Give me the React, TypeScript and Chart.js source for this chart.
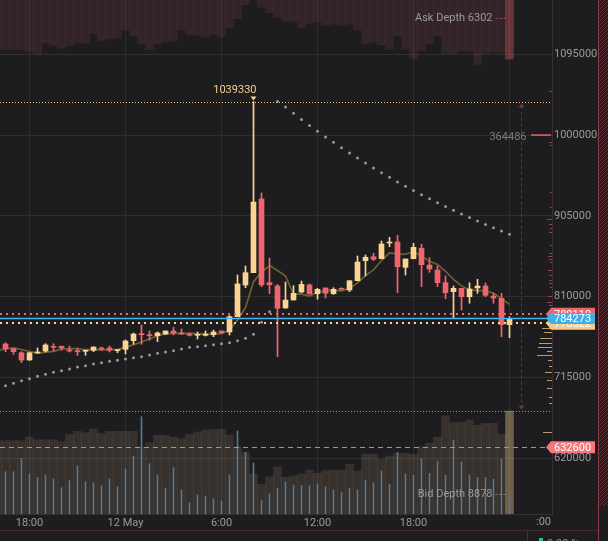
import React, { useEffect, useRef } from "react";
import { Chart, registerables } from "chart.js";

Chart.register(...registerables);

// ---------------- data ----------------
// 30-minute candles, 11 May 16:30 -> 13 May 00:00
const opens = [
  754200, 748600, 743900, 735300, 743600, 745900, 751000, 751500,
  747100, 746300, 745600, 746800, 749500, 749500, 746300, 747900,
  758100, 766300, 765100, 763900, 765900, 769500, 767100, 765900,
  764400, 764400, 765100, 769500, 768300, 786300, 823600, 838100,
  924800, 826300, 822400, 796500, 805900, 815300, 823600, 813300,
  820100, 813300, 819700, 817700, 828600, 852200, 856900, 854500,
  873000, 874200, 844400, 854500, 866800, 847100, 841200, 826300,
  815700, 819700, 809800, 820100, 822400, 810600, 807900, 776900,
];
const highs = [
  755700, 748900, 745100, 744200, 749500, 754500, 754500, 751800,
  751800, 749500, 747100, 750900, 750600, 751800, 747700, 758900,
  767100, 776500, 769500, 768300, 769500, 773800, 771800, 767100,
  768300, 769500, 770600, 769500, 787500, 835300, 845900, 1039330,
  931800, 855300, 824300, 827100, 822800, 828200, 824800, 819700,
  820100, 820400, 820400, 828600, 857700, 858900, 860900, 875300,
  879700, 882100, 854200, 872600, 871500, 855700, 845900, 834200,
  822400, 819700, 826300, 830300, 825900, 813800, 813800, 786300,
];
const lows = [
  745100, 742000, 732200, 735000, 743200, 744800, 745900, 746800,
  744800, 740800, 740900, 745100, 746800, 744800, 743900, 742400,
  753800, 753800, 758500, 756900, 765100, 764800, 765600, 763600,
  760100, 763600, 762800, 766300, 764800, 786300, 820400, 838100,
  821500, 813300, 739200, 796200, 805900, 814500, 813000, 806800,
  808300, 812600, 817700, 815700, 828600, 834200, 852200, 854500,
  868600, 814500, 835300, 854500, 821600, 838500, 821600, 807500,
  784400, 794000, 802200, 813800, 809800, 802200, 762800, 761600,
];
const closes = [
  748600, 745100, 735300, 743900, 744800, 753000, 750300, 749500,
  745900, 745100, 746800, 750600, 748300, 746800, 747500, 757700,
  765900, 765100, 763900, 767100, 769500, 767100, 765900, 764400,
  765100, 765900, 768300, 767100, 786300, 824800, 838100, 921200,
  823800, 823800, 796200, 805900, 813800, 824300, 813000, 818500,
  813800, 818500, 818500, 828600, 850600, 856200, 853800, 871800,
  874200, 845100, 854200, 867900, 847500, 842400, 826300, 814500,
  819700, 809800, 818900, 822400, 811500, 808300, 776900, 784273,
];
// moving average, first value belongs to the candle before the first one shown
const maLine = [
  746500,
  748300, 749800, 747700, 745400, 743500, 744400, 745500, 748300,
  748700, 748800, 747500, 747600, 747300, 747500, 748000, 750200,
  753200, 756600, 760000, 763900, 766300, 766500, 766700, 766800,
  766400, 765700, 765900, 766200, 770500, 782500, 796900, 827500,
  838800, 846300, 840600, 834200, 812700, 812800, 810600, 815100,
  816700, 817600, 816500, 819600, 826000, 834500, 841500, 852200,
  861300, 860200, 859800, 862600, 857800, 851400, 847700, 839700,
  830100, 822500, 817800, 817100, 816500, 814200, 807600, 800700,
];
// parabolic SAR dots
const sarDots = [
  705100, 707900, 711000, 713300, 716200, 718500, 720900, 722800,
  724800, 727100, 728600, 730600, 732200, 733800, 735000, 736500,
  738100, 739200, 741200, 743200, 744800, 746300, 748300, 750300,
  751000, 752200, 753400, 754500, 755700, 758100, 760900, 765600,
  779700, 792200, 1039330, 1032900, 1025500, 1018300, 1011200, 1004500,
  997800, 991400, 985000, 978800, 972900, 967000, 961200, 955700,
  950300, 944900, 939800, 934800, 929800, 925100, 920400, 915800,
  911500, 907100, 902900, 898800, 894800, 890900, 887000, 883400,
];
const volumes = [
  423, 423, 557, 400, 367, 390, 350, 263,
  333, 480, 323, 313, 283, 350, 273, 450,
  580, 973, 503, 390, 260, 463, 240, 113,
  190, 180, 153, 130, 390, 830, 617, 510,
  133, 200, 260, 320, 290, 287, 280, 300,
  273, 240, 213, 257, 240, 340, 313, 430,
  297, 617, 400, 387, 553, 407, 530, 387,
  740, 523, 390, 367, 367, 347, 550, 147,
];
// depth histories, first value belongs to the candle before the first one shown
const askDepth = [
  5265,
  5265, 5265, 5265, 5522, 5799, 4592, 4881, 5126,
  4881, 4592, 4592, 3599, 4379, 4165, 4058, 3204,
  3845, 4624, 5308, 4699, 4486, 4347, 3204, 3738,
  3738, 3920, 3706, 3920, 2990, 1997, 502, 0,
  780, 1356, 1848, 2275, 2275, 2990, 2563, 2350,
  2702, 2563, 2702, 2563, 3204, 4624, 4486, 4774,
  5265, 3845, 5265, 6301, 5415, 4699, 3845, 5692,
  5692, 5447, 5447, 6942, 5692, 5522, 5692, 6302,
];
const bidDepth = [
  6318,
  6318, 6318, 6318, 6637, 6405, 6405, 6405, 6232,
  6870, 7129, 7008, 7327, 6922, 7129, 7129, 7129,
  7129, 5801, 6146, 6784, 6784, 6612, 6465, 6870,
  7068, 7215, 7301, 7301, 6810, 5801, 5284, 3448,
  2560, 3215, 4051, 3164, 3276, 3448, 3793, 3508,
  3732, 3793, 3793, 4284, 3707, 5146, 5172, 4715,
  5000, 5232, 5232, 5146, 5801, 6094, 6612, 8473,
  7870, 7870, 8103, 7646, 7818, 7818, 6870, 8878,
];
const xTickIndex = [3, 15, 27, 39, 51, 63];
const xTickLabels = ["18:00", "12 May", "6:00", "12:00", "18:00", ""];
const priceTicks = [620000, 715000, 810000, 905000, 1000000, 1095000];

const periodHigh = 1039330;
const periodHighIndex = 31;
const lastPrice = 784273;
const askLinePrice = 789110;
const bidLinePrice = 778522;
const alertPrice = 632600;
const rangeLow = 674844;
const rangeSize = 364486;
const rangeMarkerIndex = 64.4;
const wallPrice = 1000000;
const askDepthTotal = 6302;
const bidDepthTotal = 8878;
// side order book: [price, size]
const bookAsk = [
  [1051470, 3], [991820, 3], [987940, 2], [933350, 2], [915700, 2], [900880, 5],
  [895350, 3], [890290, 2], [886290, 3], [870290, 2], [861230, 3], [857700, 4],
  [854170, 3], [850640, 2], [841230, 4], [835350, 3], [829460, 3], [825580, 3],
  [820870, 2], [810640, 4], [803940, 5], [800060, 3],
];
const bookBid = [
  [773350, 10], [767940, 8], [760880, 12], [755700, 13], [751000, 14], [746290, 5],
  [740880, 15], [735360, 4], [728300, 3], [721590, 7], [711830, 5], [702420, 5],
  [692180, 3], [685120, 3], [650300, 9],
];

// ---------------- styles ----------------
const BG = "#1d1d1f";
const GRID = "#2f2f32";
const TICK = "#9a9a9a";
const UP = "#fcd492";
const DOWN = "#f1646e";
const FONT = "Roboto, 'Noto Sans', sans-serif";
const W = 608;
const H = 541;

export default function App() {
  const ref = useRef<HTMLCanvasElement>(null);

  useEffect(() => {
    document.body.style.margin = "0";
    document.body.style.background = BG;
    const canvas = ref.current!;
    const idx = closes.map((_, i) => i);
    const last = closes.length - 1;
    const candleColors = idx.map((i) => (closes[i] >= opens[i] ? UP : DOWN));
    const askColors = askDepth.map((_, k) =>
      k - 1 === last ? "rgba(240,100,110,0.34)" : "rgba(240,100,110,0.11)"
    );
    const bidColors = bidDepth.map((_, k) =>
      k - 1 === last ? "rgba(253,214,146,0.36)" : "rgba(253,214,146,0.115)"
    );

    const overlay = {
      id: "overlay",
      beforeDraw(chart: any) {
        const c = chart.ctx;
        c.save();
        c.fillStyle = BG;
        c.fillRect(0, 0, chart.width, chart.height);
        c.restore();
      },
      afterDraw(chart: any) {
        const ctx: CanvasRenderingContext2D = chart.ctx;
        const ca = chart.chartArea;
        const xs = chart.scales.x;
        const ys = chart.scales.y;
        const X = (i: number) => xs.getPixelForValue(i);
        const Y = (v: number) => ys.getPixelForValue(v);
        const line = (x0: number, y0: number, x1: number, y1: number, color: string, width = 1, dash: number[] = []) => {
          ctx.save();
          ctx.strokeStyle = color;
          ctx.lineWidth = width;
          ctx.setLineDash(dash);
          ctx.beginPath();
          ctx.moveTo(x0, y0);
          ctx.lineTo(x1, y1);
          ctx.stroke();
          ctx.restore();
        };
        const text = (s: string, x: number, y: number, color: string, align: CanvasTextAlign, base: CanvasTextBaseline = "middle", size = 11) => {
          ctx.save();
          ctx.fillStyle = color;
          ctx.font = `${size}px ${FONT}`;
          ctx.textAlign = align;
          ctx.textBaseline = base;
          ctx.fillText(s, x, y);
          ctx.restore();
        };

        // frame
        line(ca.right + 0.5, 0, ca.right + 0.5, ca.bottom, "#3b2e32");
        line(0, ca.bottom + 0.5, ca.right + 1, ca.bottom + 0.5, "#3b2e32");
        line(0, 530.5, 598, 530.5, "#3d2b2f");
        line(527.5, 531, 527.5, H, "#3a3a3c");
        // right hatched strip
        ctx.save();
        ctx.beginPath();
        ctx.rect(599, 0, W - 599, 506);
        ctx.clip();
        ctx.fillStyle = "#231c1e";
        ctx.fillRect(599, 0, W - 599, 506);
        ctx.strokeStyle = "#6a2c36";
        ctx.lineWidth = 1;
        for (let k = -12; k < 520; k += 4) {
          ctx.beginPath();
          ctx.moveTo(599, k + 10);
          ctx.lineTo(609, k);
          ctx.stroke();
        }
        ctx.restore();
        line(598.5, 0, 598.5, H, "#8c3a46");

        // side order book marks
        ctx.save();
        ctx.fillStyle = "rgba(176,70,82,0.85)";
        bookAsk.forEach(([p, s]) => ctx.fillRect(ca.right - s, Math.round(Y(p)), s, 1));
        ctx.fillStyle = "rgba(214,180,120,0.85)";
        bookBid.forEach(([p, s]) => ctx.fillRect(ca.right - s, Math.round(Y(p)), s, 1));
        ctx.restore();
        line(ca.right - 21, Y(wallPrice), ca.right - 1, Y(wallPrice), "#f0606a", 1.5);

        // horizontal price lines
        const hl = (v: number, color: string, dash: number[], w: number) => {
          const y = Math.round(Y(v)) + (w % 2 === 1 ? 0.5 : 0);
          line(0, y, ca.right - 2, y, color, w, dash);
        };
        hl(periodHigh, "#f2c46f", [1, 2], 1);
        hl(rangeLow, "#e66d76", [1, 2], 1);
        hl(alertPrice, "#f0727a", [5, 4], 1);
        hl(askLinePrice, "#f0646e", [2, 4], 2);
        hl(bidLinePrice, "#fcd492", [2, 4], 2);
        line(0, Y(lastPrice), ca.right - 4, Y(lastPrice), "#3fb4ef", 1.5);

        // range marker
        const rx = Math.round(X(rangeMarkerIndex)) + 0.5;
        const yTop = Y(periodHigh);
        const yBot = Y(rangeLow);
        line(rx, yTop + 4, rx, yBot - 4, "#6e3039", 1, [3, 3]);
        ctx.save();
        ctx.fillStyle = "#7a3440";
        ctx.beginPath();
        ctx.moveTo(rx, yTop + 2);
        ctx.lineTo(rx - 3, yTop + 6);
        ctx.lineTo(rx + 3, yTop + 6);
        ctx.closePath();
        ctx.fill();
        ctx.beginPath();
        ctx.moveTo(rx, yBot - 2);
        ctx.lineTo(rx - 3, yBot - 6);
        ctx.lineTo(rx + 3, yBot - 6);
        ctx.closePath();
        ctx.fill();
        ctx.restore();
        text(String(rangeSize), rx + 5, yTop + 36, "#7d7d7d", "right");

        // period high label
        const hx = X(periodHighIndex);
        text(String(periodHigh), hx + 3, yTop - 11, "#f5d08e", "right");
        ctx.save();
        ctx.fillStyle = "#f5d08e";
        ctx.beginPath();
        ctx.moveTo(hx - 3, yTop - 5);
        ctx.lineTo(hx + 3, yTop - 5);
        ctx.lineTo(hx, yTop - 1);
        ctx.closePath();
        ctx.fill();
        ctx.restore();

        // depth labels
        const lx = X(last);
        text(`Ask Depth ${askDepthTotal}`, lx - 17, 18, "#9a9a9a", "right");
        line(lx - 14, 18.5, lx - 4, 18.5, "#a04a55", 1, [2, 2]);
        text(`Bid Depth ${bidDepthTotal}`, lx - 17, ca.bottom - 20, "#9a9a9a", "right");
        line(lx - 14, ca.bottom - 19.5, lx - 4, ca.bottom - 19.5, "#8a7a5a", 1, [2, 2]);

        // right side tags
        const tag = (v: number, s: string, bg: string, fg: string, hh: number) => {
          const y = Y(v);
          ctx.save();
          ctx.fillStyle = bg;
          ctx.beginPath();
          ctx.moveTo(ca.right - 6, y);
          ctx.lineTo(ca.right - 1, y - hh);
          ctx.lineTo(595, y - hh);
          ctx.lineTo(595, y + hh);
          ctx.lineTo(ca.right - 1, y + hh);
          ctx.closePath();
          ctx.fill();
          ctx.restore();
          text(s, ca.right + 2, y + 0.5, fg, "left");
        };
        tag(askLinePrice, String(askLinePrice), "#f0646e", "#ffffff", 6.5);
        tag(bidLinePrice, String(bidLinePrice), "#f8c98a", "#ffffff", 6.5);
        tag(lastPrice, String(lastPrice), "#3cb0ea", "#ffffff", 5.5);
        tag(alertPrice, String(alertPrice), "#f4777e", "#ffffff", 6);

        // clipped time label at the right end of the time axis
        text(":00", ca.right - 1, ca.bottom + 3, TICK, "right", "top");

        // status row at the very bottom
        ctx.save();
        ctx.fillStyle = "#2ebd85";
        ctx.fillRect(539, 538, 4, 4);
        ctx.restore();
        text("0.00 %", 547, 539, "#8e8e8e", "left", "top");
      },
    };

    const chart = new Chart(canvas, {
      type: "bar",
      data: {
        datasets: [
          {
            type: "bar",
            label: "body",
            data: idx.map((i) => ({ x: i, y: [opens[i], closes[i]] })) as any,
            backgroundColor: candleColors,
            barThickness: 5,
            minBarLength: 1,
            grouped: false,
            yAxisID: "y",
            order: 1,
          },
          {
            type: "bar",
            label: "wick",
            data: idx.map((i) => ({ x: i, y: [lows[i], highs[i]] })) as any,
            backgroundColor: candleColors,
            barThickness: 1,
            grouped: false,
            yAxisID: "y",
            order: 2,
          },
          {
            type: "line",
            label: "MA",
            data: maLine.map((v, k) => ({ x: k - 1, y: v })),
            borderColor: "#6d6334",
            borderWidth: 1.6,
            pointRadius: 0,
            tension: 0,
            yAxisID: "y",
            order: 3,
          },
          {
            type: "line",
            label: "SAR",
            data: sarDots.map((v, i) => ({ x: i, y: v })),
            showLine: false,
            pointRadius: 1.5,
            pointBackgroundColor: "#979797",
            pointBorderWidth: 0,
            yAxisID: "y",
            order: 4,
          },
          {
            type: "bar",
            label: "volume",
            data: volumes.map((v, i) => ({ x: i, y: v })),
            backgroundColor: "#58788c",
            barThickness: 1,
            grouped: false,
            yAxisID: "vol",
            order: 5,
          },
          {
            type: "bar",
            label: "bid depth",
            data: bidDepth.map((v, k) => ({ x: k - 1, y: v })),
            backgroundColor: bidColors,
            barThickness: 8,
            grouped: false,
            yAxisID: "bid",
            order: 6,
          },
          {
            type: "bar",
            label: "ask depth",
            data: askDepth.map((v, k) => ({ x: k - 1, y: v })),
            backgroundColor: askColors,
            barThickness: 8,
            grouped: false,
            yAxisID: "ask",
            order: 7,
          },
        ],
      },
      options: {
        animation: false,
        responsive: false,
        events: [],
        layout: { padding: 0, autoPadding: false },
        plugins: { legend: { display: false }, tooltip: { enabled: false } },
        scales: {
          x: {
            type: "linear",
            position: "bottom",
            min: -0.6875,
            max: 68.3125,
            offset: false,
            grid: { color: GRID, drawTicks: false, offset: false },
            border: { display: false },
            ticks: {
              color: TICK,
              font: { family: FONT, size: 11 },
              padding: 3,
              maxRotation: 0,
              autoSkip: false,
              callback: (v: any) => {
                const k = xTickIndex.indexOf(Number(v));
                return k >= 0 ? xTickLabels[k] : "";
              },
            },
            afterBuildTicks: (s: any) => {
              s.ticks = xTickIndex.map((v) => ({ value: v }));
            },
            afterFit: (s: any) => {
              s.height = 27;
              s.paddingLeft = 0;
              s.paddingRight = 0;
            },
          },
          y: {
            type: "linear",
            position: "right",
            min: 554163,
            max: 1158884,
            grid: { color: GRID, drawTicks: false },
            border: { display: false },
            ticks: {
              color: TICK,
              font: { family: FONT, size: 11 },
              padding: 2,
              callback: (v: any) => String(v),
            },
            afterBuildTicks: (s: any) => {
              s.ticks = priceTicks.map((v) => ({ value: v }));
            },
            afterFit: (s: any) => {
              s.width = 56;
              s.paddingTop = 0;
              s.paddingBottom = 0;
            },
          },
          vol: { type: "linear", display: false, min: 0, max: 5140 },
          bid: { type: "linear", display: false, min: 0, max: 44307 },
          ask: { type: "linear", display: false, min: 0, max: 54895, reverse: true },
        },
      } as any,
      plugins: [overlay],
    });
    return () => chart.destroy();
  }, []);

  return (
    <canvas
      ref={ref}
      width={W}
      height={H}
      style={{ display: "block", width: W, height: H }}
    />
  );
}
